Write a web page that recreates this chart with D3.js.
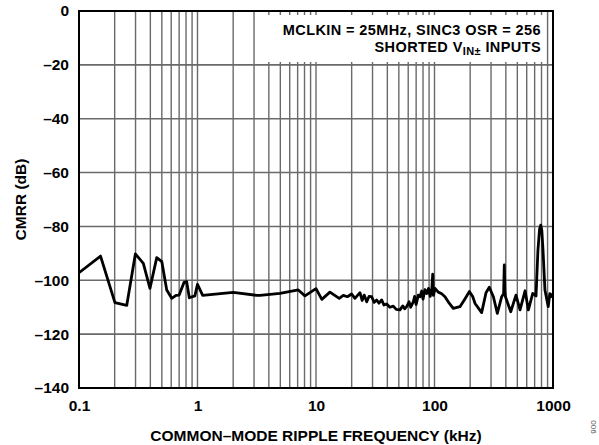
<!DOCTYPE html>
<html>
<head>
<meta charset="utf-8">
<script src="https://cdn.jsdelivr.net/npm/d3@7"></script>
<style>
  html, body { margin: 0; padding: 0; background: #fff; }
  svg { display: block; font-family: "Liberation Sans", Arial, Helvetica, sans-serif; }
</style>
</head>
<body>
<svg id="chart" width="599" height="445"></svg>
<script>
// CMRR vs common-mode ripple frequency (log x).

const freqKHz = [
  0.1, 0.152, 0.201, 0.253, 0.299, 0.349, 0.397, 0.453, 0.5, 0.55,
  0.606, 0.659, 0.7, 0.769, 0.81, 0.853, 0.95, 1.0, 1.106, 2.0,
  3.16, 3.37, 4.97, 7.09, 8.07, 10, 11.2, 13.1, 15.7, 17.0,
  18.4, 20, 21.3, 23.5, 24.5, 25.5, 26.8, 28, 29.5, 31,
  32.5, 34, 35.8, 37.5, 39.5, 42, 44.9, 47.5, 51.1, 54,
  56, 58.2, 61, 63, 66.2, 68, 70, 73, 75.5, 78,
  80, 83, 86, 89, 92, 95, 96.6, 97.9, 101, 107.6,
  115, 122.6, 133, 144, 164, 180, 197, 210, 220, 250,
  272, 290, 314, 339, 369, 383, 388, 393, 397, 440,
  487, 527, 581, 620, 674, 719, 746, 770, 788, 805,
  824, 855, 912, 940, 961, 1000
];

const cmrrDb = [
  -97.2, -91, -108.3, -109.3, -90.2, -93.7, -103, -91.6, -93.1, -103.6,
  -106.7, -105.6, -105.5, -100.8, -100.5, -106.5, -105.8, -101.5, -105.6, -104.5,
  -105.6, -105.6, -104.9, -103.6, -105.8, -103.1, -107.1, -104.4, -106.7, -105.6,
  -106.1, -105.1, -106.7, -104.6, -107.5, -105.5, -108, -106, -106.1, -108.2,
  -107.3, -108.5, -107.3, -109.2, -108.8, -110, -109.6, -110.8, -111, -109.5,
  -110.6, -109.8, -108, -110, -108, -106, -109, -105.5, -106.1, -104,
  -107, -103.5, -104.9, -103, -106, -103, -97.7, -105.6, -103, -104.4,
  -105, -106.1, -108.5, -110.4, -109.8, -107, -104.2, -106, -108.6, -112,
  -104.6, -102.6, -106.1, -112.3, -106.1, -105, -94.3, -104, -106.1, -111.7,
  -105.5, -111, -103.9, -111, -104.9, -105.8, -89, -81, -79.5, -81.5,
  -89, -103.6, -109.8, -105, -106.1, -104.9
];

const xTicks = [0.1, 1, 10, 100, 1000];
const xTickLabels = ["0.1", "1", "10", "100", "1000"];
const yTicks = [0, -20, -40, -60, -80, -100, -120, -140];

const xTitle = "COMMON\u2013MODE RIPPLE FREQUENCY (kHz)";
const yTitle = "CMRR (dB)";
const noteLine1 = "MCLKIN = 25MHz, SINC3 OSR = 256";

const margin = { top: 11, right: 46, bottom: 57, left: 79 };
const W = 599, H = 445;
const FONT = "'Liberation Sans', Arial, sans-serif";

const svg = d3.select("#chart");

const x = d3.scaleLog().domain([0.1, 1000]).range([margin.left, W - margin.right]);
const y = d3.scaleLinear().domain([-140, 0]).range([H - margin.bottom, margin.top]);

// minor + major vertical grid (1..9 per decade)
const vGrid = [];
for (let e = -1; e < 3; e++) {
  for (let m = 1; m <= 9; m++) {
    const v = m * Math.pow(10, e);
    if (v > 0.1 && v < 1000) vGrid.push(+v.toPrecision(3));
  }
}

svg.append("g")
  .selectAll("line")
  .data(vGrid)
  .join("line")
  .attr("x1", (d) => x(d))
  .attr("x2", (d) => x(d))
  .attr("y1", y(0))
  .attr("y2", y(-140))
  .attr("stroke", "#6a6a6a")
  .attr("stroke-width", 1.4);

svg.append("g")
  .selectAll("line")
  .data(yTicks.filter((d) => d > -140 && d < 0))
  .join("line")
  .attr("x1", x(0.1))
  .attr("x2", x(1000))
  .attr("y1", (d) => y(d))
  .attr("y2", (d) => y(d))
  .attr("stroke", "#6a6a6a")
  .attr("stroke-width", 1.6);

// annotation box masks the grid
svg.append("rect")
  .attr("x", 262)
  .attr("y", 15)
  .attr("width", 283)
  .attr("height", 47)
  .attr("fill", "#fff");

const note = svg.append("g")
  .attr("font-weight", "bold")
  .attr("font-size", 14.5)
  .attr("letter-spacing", 0.4)
  .attr("text-anchor", "end")
  .attr("fill", "#000");

note.append("text")
  .attr("x", 541)
  .attr("y", 35)
  .text(noteLine1);

const l2 = note.append("text").attr("x", 541).attr("y", 51.5);
l2.append("tspan").text("SHORTED V");
l2.append("tspan").attr("font-size", 11).attr("dy", 3).text("IN\u00b1");
l2.append("tspan").attr("dy", -3).text(" INPUTS");

// data line
const line = d3.line()
  .x((d) => x(d[0]))
  .y((d) => y(d[1]));

svg.append("path")
  .datum(freqKHz.map((f, i) => [f, cmrrDb[i]]))
  .attr("fill", "none")
  .attr("stroke", "#000")
  .attr("stroke-width", 2.8)
  .attr("stroke-linejoin", "round")
  .attr("d", line);

// frame
svg.append("rect")
  .attr("x", x(0.1))
  .attr("y", y(0))
  .attr("width", x(1000) - x(0.1))
  .attr("height", y(-140) - y(0))
  .attr("fill", "none")
  .attr("stroke", "#000")
  .attr("stroke-width", 2);

// axes (labels only)
const xAxis = d3.axisBottom(x)
  .tickValues(xTicks)
  .tickFormat((d, i) => xTickLabels[i])
  .tickSize(0)
  .tickPadding(12);

svg.append("g")
  .attr("transform", `translate(0,${y(-140)})`)
  .call(xAxis)
  .call((g) => g.select(".domain").remove())
  .call((g) => g.selectAll("text")
    .attr("font-size", 15.5)
    .attr("font-weight", "bold")
    .attr("fill", "#000")
    .attr("font-family", FONT));

const yAxis = d3.axisLeft(y)
  .tickValues(yTicks)
  .tickFormat((d) => (d === 0 ? "0" : "\u2013" + Math.abs(d)))
  .tickSize(0)
  .tickPadding(10);

svg.append("g")
  .attr("transform", `translate(${x(0.1)},0)`)
  .call(yAxis)
  .call((g) => g.select(".domain").remove())
  .call((g) => g.selectAll("text")
    .attr("font-size", 15.5)
    .attr("font-weight", "bold")
    .attr("fill", "#000")
    .attr("font-family", FONT));

svg.append("text")
  .attr("x", (x(0.1) + x(1000)) / 2)
  .attr("y", 441)
  .attr("text-anchor", "middle")
  .attr("font-size", 15.5)
  .attr("font-weight", "bold")
  .text(xTitle);

svg.append("text")
  .attr("transform", `translate(26,${(y(0) + y(-140)) / 2}) rotate(-90)`)
  .attr("text-anchor", "middle")
  .attr("font-size", 15.5)
  .attr("font-weight", "bold")
  .text(yTitle);

svg.append("text")
  .attr("transform", "translate(591,427) rotate(90)")
  .attr("text-anchor", "middle")
  .attr("font-size", 8)
  .attr("fill", "#555")
  .text("006");
</script>
</body>
</html>
